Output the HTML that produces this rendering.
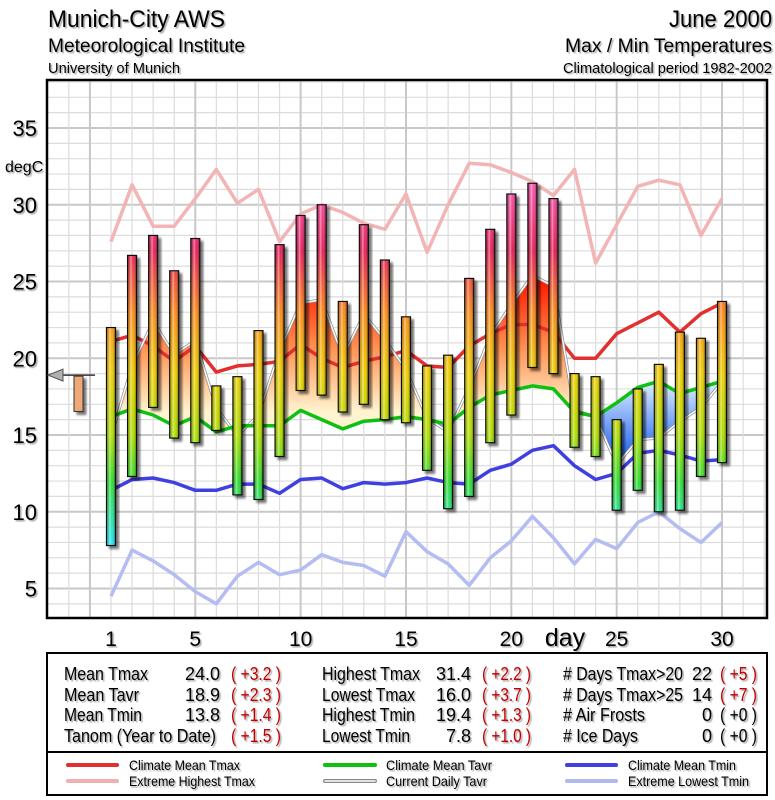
<!DOCTYPE html>
<html><head><meta charset="utf-8"><style>
html,body{margin:0;padding:0;background:#fff;}
svg{display:block;font-family:"Liberation Sans",Arial,sans-serif;}
</style></head><body>
<svg id="chart" width="775" height="800" viewBox="0 0 775 800" xmlns="http://www.w3.org/2000/svg">
<defs>
<filter id="sh" x="-50%" y="-10%" width="200%" height="130%"><feGaussianBlur in="SourceAlpha" stdDeviation="1.2"/><feOffset dx="3" dy="3"/><feComponentTransfer><feFuncA type="linear" slope="0.55"/></feComponentTransfer><feMerge><feMergeNode/><feMergeNode in="SourceGraphic"/></feMerge></filter>
<filter id="tsh"><feGaussianBlur in="SourceAlpha" stdDeviation="0.6"/><feOffset dx="1.5" dy="1.5"/><feComponentTransfer><feFuncA type="linear" slope="0.35"/></feComponentTransfer><feMerge><feMergeNode/><feMergeNode in="SourceGraphic"/></feMerge></filter>
<linearGradient id="hl" x1="0" y1="0" x2="1" y2="0"><stop offset="0" stop-color="#000" stop-opacity="0.15"/><stop offset="0.35" stop-color="#fff" stop-opacity="0.45"/><stop offset="0.6" stop-color="#fff" stop-opacity="0"/><stop offset="1" stop-color="#000" stop-opacity="0.35"/></linearGradient>
</defs>
<g id="grid"></g>
<g id="fills"></g>
<g id="lines"></g>
<g id="bars"></g>
<rect x="47" y="80" width="720" height="538" fill="none" stroke="#000" stroke-width="2.5"/>
<g id="axes"></g>
<g filter="url(#tsh)" fill="#000">
<text x="48" y="27" font-size="24" textLength="177" lengthAdjust="spacingAndGlyphs">Munich-City AWS</text>
<text x="48" y="52" font-size="19" textLength="197" lengthAdjust="spacingAndGlyphs">Meteorological Institute</text>
<text x="48" y="73" font-size="15" textLength="132" lengthAdjust="spacingAndGlyphs">University of Munich</text>
<text x="772" y="27" font-size="24" text-anchor="end" textLength="103" lengthAdjust="spacingAndGlyphs">June 2000</text>
<text x="772" y="52" font-size="19" text-anchor="end" textLength="207" lengthAdjust="spacingAndGlyphs">Max / Min Temperatures</text>
<text x="772" y="73" font-size="15" text-anchor="end" textLength="209" lengthAdjust="spacingAndGlyphs">Climatological period 1982-2002</text>
</g>
<g>
<rect x="47" y="653" width="720" height="99" fill="#fff" stroke="#000" stroke-width="2"/>
<g font-size="18" filter="url(#tsh)">
<text x="64" y="680" textLength="84" lengthAdjust="spacingAndGlyphs">Mean Tmax</text>
<text x="64" y="701" textLength="75" lengthAdjust="spacingAndGlyphs">Mean Tavr</text>
<text x="64" y="721" textLength="78" lengthAdjust="spacingAndGlyphs">Mean Tmin</text>
<text x="64" y="742" textLength="152" lengthAdjust="spacingAndGlyphs">Tanom (Year to Date)</text>
<text x="220" y="680" text-anchor="end">24.0</text>
<text x="220" y="701" text-anchor="end">18.9</text>
<text x="220" y="721" text-anchor="end">13.8</text>
<g fill="#c00000"><text x="231" y="680" textLength="50" lengthAdjust="spacingAndGlyphs">( +3.2 )</text>
<text x="231" y="701" textLength="50" lengthAdjust="spacingAndGlyphs">( +2.3 )</text>
<text x="231" y="721" textLength="50" lengthAdjust="spacingAndGlyphs">( +1.4 )</text>
<text x="231" y="742" textLength="50" lengthAdjust="spacingAndGlyphs">( +1.5 )</text></g>
<text x="322" y="680" textLength="98" lengthAdjust="spacingAndGlyphs">Highest Tmax</text>
<text x="322" y="701" textLength="93" lengthAdjust="spacingAndGlyphs">Lowest Tmax</text>
<text x="322" y="721" textLength="93" lengthAdjust="spacingAndGlyphs">Highest Tmin</text>
<text x="322" y="742" textLength="88" lengthAdjust="spacingAndGlyphs">Lowest Tmin</text>
<text x="471" y="680" text-anchor="end">31.4</text>
<text x="471" y="701" text-anchor="end">16.0</text>
<text x="471" y="721" text-anchor="end">19.4</text>
<text x="471" y="742" text-anchor="end">7.8</text>
<g fill="#c00000"><text x="482" y="680" textLength="49" lengthAdjust="spacingAndGlyphs">( +2.2 )</text>
<text x="482" y="701" textLength="49" lengthAdjust="spacingAndGlyphs">( +3.7 )</text>
<text x="482" y="721" textLength="49" lengthAdjust="spacingAndGlyphs">( +1.3 )</text>
<text x="482" y="742" textLength="49" lengthAdjust="spacingAndGlyphs">( +1.0 )</text></g>
<text x="563" y="680" textLength="120" lengthAdjust="spacingAndGlyphs"># Days Tmax&gt;20</text>
<text x="563" y="701" textLength="120" lengthAdjust="spacingAndGlyphs"># Days Tmax&gt;25</text>
<text x="563" y="721" textLength="82" lengthAdjust="spacingAndGlyphs"># Air Frosts</text>
<text x="563" y="742" textLength="75" lengthAdjust="spacingAndGlyphs"># Ice Days</text>
<text x="712" y="680" text-anchor="end">22</text>
<text x="712" y="701" text-anchor="end">14</text>
<text x="712" y="721" text-anchor="end">0</text>
<text x="712" y="742" text-anchor="end">0</text>
<g fill="#c00000"><text x="720" y="680" textLength="37" lengthAdjust="spacingAndGlyphs">( +5 )</text>
<text x="720" y="701" textLength="37" lengthAdjust="spacingAndGlyphs">( +7 )</text></g>
<text x="720" y="721" textLength="37" lengthAdjust="spacingAndGlyphs">( +0 )</text>
<text x="720" y="742" textLength="37" lengthAdjust="spacingAndGlyphs">( +0 )</text>
</g>
</g>
<g>
<rect x="47" y="752" width="720" height="43" fill="#fff" stroke="#000" stroke-width="2"/>
<g stroke-linecap="round" stroke-width="4">
<line x1="68" y1="765" x2="117" y2="765" stroke="#e03030"/>
<line x1="68" y1="781" x2="117" y2="781" stroke="#f0b0b0"/>
<line x1="325" y1="765" x2="375" y2="765" stroke="#10c010"/>
<line x1="325" y1="781" x2="375" y2="781" stroke="#888"/>
<line x1="325" y1="781" x2="375" y2="781" stroke="#fff" stroke-width="1.5"/>
<line x1="567" y1="765" x2="616" y2="765" stroke="#4040e0"/>
<line x1="567" y1="781" x2="616" y2="781" stroke="#b0b8f0"/>
</g>
<g font-size="14" filter="url(#tsh)">
<text x="129" y="770" textLength="111" lengthAdjust="spacingAndGlyphs">Climate Mean Tmax</text>
<text x="129" y="786" textLength="126" lengthAdjust="spacingAndGlyphs">Extreme Highest Tmax</text>
<text x="386" y="770" textLength="106" lengthAdjust="spacingAndGlyphs">Climate Mean Tavr</text>
<text x="386" y="786" textLength="101" lengthAdjust="spacingAndGlyphs">Current Daily Tavr</text>
<text x="628" y="770" textLength="108" lengthAdjust="spacingAndGlyphs">Climate Mean Tmin</text>
<text x="628" y="786" textLength="121" lengthAdjust="spacingAndGlyphs">Extreme Lowest Tmin</text>
</g>
</g>
</svg>
<script>
const days = [1,2,3,4,5,6,7,8,9,10,11,12,13,14,15,16,17,18,19,20,21,22,23,24,25,26,27,28,29,30];
const tmax = [22.0,26.7,28.0,25.7,27.8,18.2,18.8,21.8,27.4,29.3,30.0,23.7,28.7,26.4,22.7,19.5,20.2,25.2,28.4,30.7,31.4,30.4,19.0,18.8,16.0,18.0,19.6,21.7,21.3,23.7];
const tmin = [7.8,12.3,16.8,14.8,14.5,15.3,11.1,10.8,13.6,17.9,17.6,16.5,17.0,16.0,15.8,12.7,10.2,11.0,14.5,16.3,19.4,19.0,14.2,13.6,10.1,11.4,10.0,10.1,12.3,13.2];
const climMax = [21.1,21.5,20.8,19.8,20.8,19.1,19.5,19.6,19.8,20.9,20.0,19.4,19.8,20.1,20.5,19.5,19.4,20.8,21.6,22.2,22.2,21.7,20.0,20.0,21.6,22.3,23.0,21.7,22.9,23.6];
const climAvr = [16.2,16.7,16.3,15.6,16.2,15.2,15.6,15.6,15.6,16.6,16.0,15.4,15.9,16.0,16.2,16.0,15.7,16.8,17.6,17.9,18.2,18.0,16.5,16.2,17.1,18.1,18.5,17.7,18.1,18.5];
const climMin = [11.4,12.1,12.2,11.9,11.4,11.4,11.8,11.8,11.2,12.1,12.2,11.5,11.9,11.8,11.9,12.2,11.9,11.8,12.7,13.1,14.0,14.3,13.0,12.1,12.5,13.8,14.0,13.7,13.3,13.4];
const extMax = [27.6,31.3,28.6,28.6,30.4,32.3,30.1,31.0,27.6,29.4,30.0,29.5,28.8,28.4,30.7,26.9,30.0,32.7,32.6,32.1,31.5,30.6,32.3,26.2,28.7,31.2,31.6,31.3,28.0,30.4];
const extMin = [4.5,7.5,6.8,5.9,4.8,4.0,5.8,6.7,5.9,6.2,7.2,6.7,6.5,5.8,8.7,7.4,6.6,5.2,7.0,8.1,9.7,8.3,6.6,8.2,7.6,9.3,10.0,8.9,8.0,9.3];
const meanTavr = 18.9;
const anomTavr = 2.3;
const yTicks = [5,10,15,20,25,30,35];
const xTicks = [1,5,10,15,20,25,30];

const NS="http://www.w3.org/2000/svg";
const L=47,R=767,T=80,B=618;
function xs(d){return 111+(d-1)*21.07;}
function ys(v){return 128+(35-v)*15.35;}
function mk(tag,attrs,parent){const e=document.createElementNS(NS,tag);for(const k in attrs)e.setAttribute(k,attrs[k]);parent.appendChild(e);return e;}
const defs=document.querySelector('defs');
const tavr=tmax.map((v,i)=>(v+tmin[i])/2);

// bar gradient (absolute temperature colours)
const bg=mk('linearGradient',{id:'barg',gradientUnits:'userSpaceOnUse',x1:0,x2:0,y1:ys(32),y2:ys(7)},defs);
[[32,'#ff60c0'],[27,'#e8205a'],[23,'#ff8c1a'],[19,'#f0d000'],[15,'#b0e000'],[12,'#30e030'],[8,'#20e8f0']].forEach(s=>mk('stop',{offset:((32-s[0])/25).toFixed(3),'stop-color':s[1]},bg));
const og=mk('linearGradient',{id:'warmg',gradientUnits:'userSpaceOnUse',x1:0,x2:0,y1:ys(25),y2:ys(16.5)},defs);
mk('stop',{offset:0,'stop-color':'#ff1a00'},og);mk('stop',{offset:0.5,'stop-color':'#ff9050'},og);mk('stop',{offset:1,'stop-color':'#fff4d0'},og);
const cg=mk('linearGradient',{id:'coolg',gradientUnits:'userSpaceOnUse',x1:0,x2:0,y1:ys(18.5),y2:ys(14)},defs);
mk('stop',{offset:0,'stop-color':'#e0f0ff'},cg);mk('stop',{offset:1,'stop-color':'#3070f0'},cg);

// grid
const g=document.getElementById('grid');
for(let v=1;v<=38;v++){const y=ys(v);if(y<T||y>B)continue;const e=mk('line',{x1:L,x2:R,y1:y,y2:y,stroke:v%5==0?'#c8c8c8':'#dcdcdc','stroke-width':v%5==0?2:1.2},g);

}
for(let d=-1;d<=32;d++){const x=xs(d);if(x<=L||x>=R)continue;const e=mk('line',{x1:x,x2:x,y1:T,y2:B,stroke:d%5==0?'#c8c8c8':'#dcdcdc','stroke-width':d%5==0?2:1.2},g);

}

// fills between current tavr and climate tavr
const f=document.getElementById('fills');
function pts(arr){return arr.map((v,i)=>xs(days[i]).toFixed(1)+','+ys(v).toFixed(1)).join(' ');}
const above=mk('clipPath',{id:'clipAbove'},defs);
mk('polygon',{points:xs(1)+','+T+' '+pts(climAvr)+' '+xs(30)+','+T},above);
const below=mk('clipPath',{id:'clipBelow'},defs);
mk('polygon',{points:xs(1)+','+B+' '+pts(climAvr)+' '+xs(30)+','+B},below);
const areaPts=pts(tavr)+' '+climAvr.map((v,i)=>[xs(days[i]),ys(v)]).reverse().map(p=>p[0].toFixed(1)+','+p[1].toFixed(1)).join(' ');
const wa=mk('polygon',{points:areaPts,fill:'url(#warmg)','clip-path':'url(#clipAbove)'},f);


const ca=mk('polygon',{points:areaPts,fill:'url(#coolg)','clip-path':'url(#clipBelow)'},f);



// lines
const lg=document.getElementById('lines');
function line(arr,color,w,name){const e=mk('polyline',{points:pts(arr),fill:'none',stroke:color,'stroke-width':w,'stroke-linejoin':'round'},lg);

return e;}
line(extMax,'#f2b4b4',3.5,'extreme-highest-tmax-line');
line(extMin,'#b4bcf2',3.5,'extreme-lowest-tmin-line');
line(climMax,'#e03030',3.5,'climate-mean-tmax-line');
line(climMin,'#4040e0',3.5,'climate-mean-tmin-line');
line(tavr,'#909090',3,'current-daily-tavr-outline');
line(tavr,'#ffffff',1.5,'current-daily-tavr-line');
line(climAvr,'#10c010',3.5,'climate-mean-tavr-line');

// bars
const bgp=document.getElementById('bars');
days.forEach((d,i)=>{const x=xs(d)-4.5,y1=ys(tmax[i]),y2=ys(tmin[i]);
const grp=mk('g',{filter:'url(#sh)'},bgp);


mk('rect',{x:x,y:y1,width:9,height:y2-y1,fill:'url(#barg)',stroke:'#111','stroke-width':1.2},grp);
mk('rect',{x:x+0.6,y:y1+0.6,width:7.8,height:Math.max(0,y2-y1-1.2),fill:'url(#hl)'},grp);
});

// axes labels
const ax=document.getElementById('axes');
yTicks.forEach(v=>{const t=mk('text',{x:37,y:ys(v)+8,'font-size':22,'text-anchor':'end',filter:'url(#tsh)'},ax);t.textContent=v;

});
const yt=mk('text',{x:5,y:172,'font-size':16,filter:'url(#tsh)'},ax);yt.textContent='degC';


xTicks.forEach(d=>{const t=mk('text',{x:xs(d),y:646,'font-size':21,'text-anchor':'middle',filter:'url(#tsh)'},ax);t.textContent=d;

});
const xt=mk('text',{x:565,y:646,'font-size':25,'text-anchor':'middle',filter:'url(#tsh)'},ax);xt.textContent='day';



// mean tavr indicator
const mi=mk('g',{},ax);


const ym=ys(meanTavr);
mk('line',{x1:62,x2:95,y1:ym,y2:ym,stroke:'#333','stroke-width':1.5},mi);
mk('polygon',{points:'48,'+ym+' 63,'+(ym-6)+' 63,'+(ym+6),fill:'#b0b0b0',stroke:'#555','stroke-width':1},mi);
const ab=mk('rect',{x:74,y:ym+1,width:9,height:ys(meanTavr-anomTavr)-ym,fill:'#f0a878',stroke:'#333','stroke-width':1,filter:'url(#sh)'},mi);


</script>
</body></html>
